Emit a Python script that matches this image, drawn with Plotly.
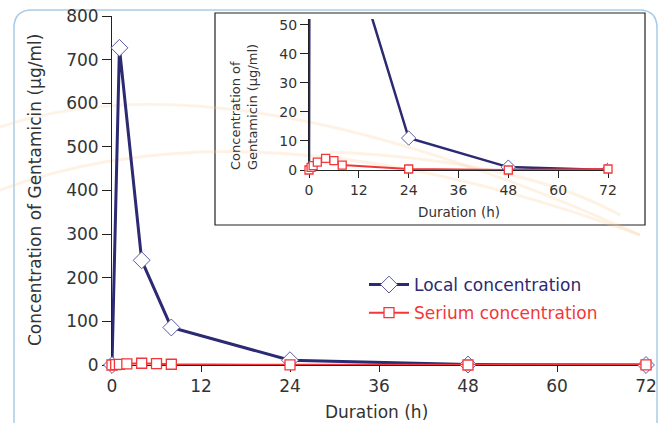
import plotly.graph_objects as go

# ---- data ----
local_t = [0, 1, 4, 8, 24, 48, 72]
local_v = [0, 727, 240, 86, 11, 1, 0]
serum_t = [0, 0.5, 1, 2, 4, 6, 8, 24, 48, 72]
serum_v = [0, 0.9, 1.5, 2.7, 4.0, 3.2, 1.7, 0.35, 0, 0.35]
x_ticks = [0, 12, 24, 36, 48, 60, 72]
main_y_ticks = [0, 100, 200, 300, 400, 500, 600, 700, 800]
inset_y_ticks = [0, 10, 20, 30, 40, 50]

W, H = 661, 423
NAVY = "#2b2a72"
NAVY_MK = "#5a5aa8"
RED = "#f2373a"
TXT = "#333333"
FONT = "DejaVu Sans"

def px(x):
    return x / W

def py(y):
    return 1 - y / H

fig = go.Figure()

# main traces
fig.add_trace(go.Scatter(
    x=local_t, y=local_v, mode="lines+markers", legendgroup="a",
    name='<span style="color:%s">Local concentration</span>' % NAVY,
    line=dict(color=NAVY, width=3),
    marker=dict(symbol="diamond", size=13, color="white", line=dict(color=NAVY_MK, width=1)),
    cliponaxis=False, xaxis="x", yaxis="y"))
fig.add_trace(go.Scatter(
    x=serum_t, y=serum_v, mode="lines+markers", legendgroup="b",
    name='<span style="color:%s">Serium concentration</span>' % RED,
    line=dict(color=RED, width=2),
    marker=dict(symbol="square", size=10, color="white", line=dict(color=RED, width=1.3)),
    cliponaxis=False, xaxis="x", yaxis="y"))

# inset traces
fig.add_trace(go.Scatter(
    x=local_t, y=local_v, mode="lines+markers", showlegend=False,
    line=dict(color=NAVY, width=2.5),
    marker=dict(symbol="diamond", size=11, color="white", line=dict(color=NAVY_MK, width=1)),
    cliponaxis=True, xaxis="x2", yaxis="y2"))
fig.add_trace(go.Scatter(
    x=serum_t, y=serum_v, mode="lines+markers", showlegend=False,
    line=dict(color=RED, width=2),
    marker=dict(symbol="square", size=8, color="white", line=dict(color=RED, width=1.3)),
    cliponaxis=False, xaxis="x2", yaxis="y2"))

shapes = []
# outer rounded box
x0, x1, y0, y1, r = 14, 657, 10, 440, 18
path = (f"M {px(x0)},{py(y1)} L {px(x0)},{py(y0 + r)} "
        f"Q {px(x0)},{py(y0)} {px(x0 + r)},{py(y0)} "
        f"L {px(x1 - r)},{py(y0)} Q {px(x1)},{py(y0)} {px(x1)},{py(y0 + r)} "
        f"L {px(x1)},{py(y1)}")
shapes.append(dict(type="path", path=path, xref="paper", yref="paper",
                   line=dict(color="#a9cbe6", width=1.5), layer="below"))
# inset box
shapes.append(dict(type="rect", xref="paper", yref="paper",
                   x0=px(215), x1=px(645), y0=py(225), y1=py(13),
                   fillcolor="white", line=dict(color="#222222", width=1.2), layer="below"))
# faint decorative arcs
for (sx, sy, cx, cy, ex, ey) in [(0, 127, 230, 50, 640, 235), (0, 190, 260, 95, 640, 235),
                                 (330, 152, 520, 160, 620, 215)]:
    shapes.append(dict(type="path", xref="paper", yref="paper", layer="below",
                       path=f"M {px(sx)},{py(sy)} Q {px(cx)},{py(cy)} {px(ex)},{py(ey)}",
                       line=dict(color="rgba(250,205,150,0.25)", width=3)))

ann_common = dict(xref="paper", yref="paper", showarrow=False, xanchor="center", yanchor="middle")
annotations = [
    dict(ann_common, text="Concentration of Gentamicin (μg/ml)", x=px(35), y=py(190),
         textangle=-90, font=dict(size=17, color=TXT, family=FONT)),
    dict(ann_common, text="Duration (h)", x=px(376), y=py(412),
         font=dict(size=17, color=TXT, family=FONT)),
    dict(ann_common, text="Concentration of<br>Gentamicin (μg/ml)", x=px(244), y=py(107),
         textangle=-90, align="left", font=dict(size=13, color=TXT, family=FONT)),
    dict(ann_common, text="Duration (h)", x=px(459), y=py(212),
         font=dict(size=13.5, color=TXT, family=FONT)),
]

axis_common = dict(showgrid=False, zeroline=False, showline=True, linecolor="#222222",
                   ticks="outside", tickcolor="#222222", color=TXT, automargin=False)

fig.update_layout(
    width=W, height=H, margin=dict(l=0, r=0, t=0, b=0, pad=0),
    paper_bgcolor="white", plot_bgcolor="rgba(0,0,0,0)",
    font=dict(family=FONT, color=TXT),
    shapes=shapes, annotations=annotations,
    xaxis=dict(axis_common, domain=[px(112), px(646)], range=[0, 72], tickvals=x_ticks,
               ticklen=6, tickfont=dict(size=17), anchor="y", layer="below traces"),
    yaxis=dict(axis_common, domain=[py(365), py(16)], range=[0, 800], tickvals=main_y_ticks,
               ticklen=9, tickfont=dict(size=17), anchor="x", layer="below traces"),
    xaxis2=dict(axis_common, domain=[px(309), px(608)], range=[0, 72], tickvals=x_ticks,
                ticklen=7, tickfont=dict(size=14), anchor="y2", layer="below traces"),
    yaxis2=dict(axis_common, domain=[py(170), py(19)], range=[0, 52], tickvals=inset_y_ticks,
                ticklen=8, tickfont=dict(size=14), anchor="x2", layer="below traces"),
    legend=dict(x=px(364), y=py(267), xanchor="left", yanchor="top", bgcolor="rgba(0,0,0,0)",
                font=dict(size=17, family=FONT), itemwidth=40, tracegroupgap=3),
)

fig.write_html("out.html", config={"displayModeBar": False},
               post_script="document.body.style.margin='0';document.body.style.overflow='hidden';")
